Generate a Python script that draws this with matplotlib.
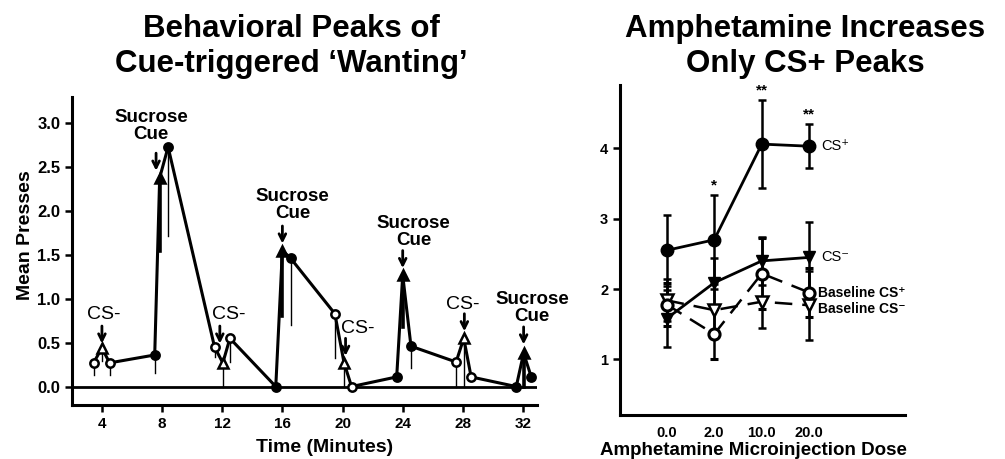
import matplotlib
matplotlib.use("Agg")
import matplotlib.pyplot as plt

# ---- left panel: mean presses over the session ----
cue_types = ["CS-", "Sucrose", "CS-", "Sucrose", "CS-", "Sucrose", "CS-", "Sucrose"]
cue_times = [4, 8, 12, 16, 20, 24, 28, 32]
# three points per cue: before, at the cue, after
times = [3.44, 4.0, 4.51, 7.51, 7.84, 8.4, 11.49, 12.04, 12.51,
         15.56, 16.0, 16.56, 19.49, 20.1, 20.6, 23.6, 24.0, 24.55,
         27.55, 28.06, 28.55, 31.55, 32.04, 32.55]
presses = [0.27, 0.44, 0.27, 0.36, 2.38, 2.73, 0.45, 0.27, 0.55,
           0.0, 1.55, 1.46, 0.83, 0.27, 0.0, 0.11, 1.27, 0.46,
           0.28, 0.55, 0.11, 0.0, 0.38, 0.11]
press_err = [0.14, 0.15, 0.14, 0.21, 0.83, 1.01, 0.11, 0.27, 0.27,
             0.0, 0.75, 0.76, 0.51, 0.27, 0.0, 0.0, 0.59, 0.25,
             0.28, 0.55, 0.0, 0.0, 0.38, 0.0]
left_xticks = [4, 8, 12, 16, 20, 24, 28, 32]
left_yticks = [0.0, 0.5, 1.0, 1.5, 2.0, 2.5, 3.0]

# ---- right panel: amphetamine dose ----
doses = ["0.0", "2.0", "10.0", "20.0"]
cs_plus = [2.55, 2.70, 4.06, 4.03]
cs_plus_err = [0.50, 0.63, 0.62, 0.31]
cs_minus = [1.58, 2.09, 2.40, 2.45]
cs_minus_err = [0.40, 0.35, 0.34, 0.51]
base_plus = [1.78, 1.36, 2.22, 1.95]
base_plus_err = [0.30, 0.36, 0.50, 0.35]
base_minus = [1.84, 1.70, 1.82, 1.77]
base_minus_err = [0.30, 0.30, 0.38, 0.49]
stars = ["", "*", "**", "**"]
right_yticks = [1, 2, 3, 4]

plt.rcParams["font.family"] = ["Liberation Sans", "DejaVu Sans"]

W, H = 1005, 459
fig = plt.figure(figsize=(W / 100, H / 100), dpi=100)
ax1 = fig.add_axes([72 / W, 1 - 405 / H, 465 / W, 308 / H])
ax2 = fig.add_axes([620 / W, 1 - 415 / H, 285 / W, 330 / H])

for ax in (ax1, ax2):
    for s in ("top", "right"):
        ax.spines[s].set_visible(False)
    for s in ("left", "bottom"):
        ax.spines[s].set_linewidth(2.2)
    ax.tick_params(direction="out", width=1.8, length=5)

# left panel
ax1.axhline(0, color="black", lw=2, zorder=1)
ax1.plot(times, presses, color="black", lw=2.2, zorder=3)
for i, (t, p, e) in enumerate(zip(times, presses, press_err)):
    kind = cue_types[i // 3]
    at_cue = i % 3 == 1
    if e > 0:
        lw = 2.6 if (at_cue and kind == "Sucrose") else 1.0
        ax1.plot([t, t], [p - e, p], color="black", lw=lw, zorder=2)
    marker = "^" if at_cue else "o"
    face = "black" if kind == "Sucrose" else "white"
    ax1.plot(t, p, marker=marker, ms=7 if at_cue else 6, mfc=face,
             mec="black", mew=1.8, zorder=4)

# cue labels with arrows (label x, label y, arrow x, arrow tip)
label_layout = [(4.1, 0.82, 4.0, 0.49), (7.27, 2.975, 7.6, 2.46),
                (12.44, 0.82, 11.84, 0.49), (16.69, 2.065, 16.0, 1.63),
                (21.04, 0.66, 20.2, 0.35), (24.73, 1.765, 24.0, 1.35),
                (28.0, 0.93, 28.1, 0.63), (32.6, 0.89, 32.04, 0.48)]
for kind, (tx, ty, ax_, tip) in zip(cue_types, label_layout):
    if kind == "Sucrose":
        ax1.text(tx, ty, "Sucrose\nCue", ha="center", va="center",
                 fontsize=13.5, fontweight="bold", linespacing=1.0)
    else:
        ax1.text(tx, ty, "CS-", ha="center", va="center", fontsize=14)
    ax1.annotate("", xy=(ax_, tip), xytext=(ax_, tip + 0.2),
                 arrowprops=dict(arrowstyle="->", lw=2, color="black",
                                 mutation_scale=12, shrinkA=0, shrinkB=0))

ax1.set_xlim(2.01, 32.93)
ax1.set_ylim(-0.21, 3.3)
ax1.set_xticks(left_xticks)
ax1.set_yticks(left_yticks)
ax1.set_xticklabels([str(v) for v in left_xticks], fontsize=11, fontweight="bold")
ax1.set_yticklabels([f"{v:.1f}" for v in left_yticks], fontsize=12, fontweight="bold")
ax1.set_xlabel("Time (Minutes)", fontsize=14, fontweight="bold")
ax1.set_ylabel("Mean Presses", fontsize=14, fontweight="bold")
ax1.xaxis.set_label_coords(0.544, -0.11)
ax1.yaxis.set_label_coords(-0.082, 0.55)

# right panel
x = list(range(len(doses)))
eb = dict(color="black", capsize=3, elinewidth=1.8, capthick=1.8)
ax2.errorbar(x, base_minus, yerr=base_minus_err, marker="v", ms=8, mfc="white",
             mec="black", mew=1.8, lw=1.8, ls=(0, (7, 4)), **eb)
ax2.errorbar(x, base_plus, yerr=base_plus_err, marker="o", ms=8, mfc="white",
             mec="black", mew=2.2, lw=1.8, ls=(0, (7, 4)), **eb)
ax2.errorbar(x, cs_minus, yerr=cs_minus_err, marker="v", ms=9, mfc="black",
             mec="black", lw=2, **eb)
ax2.errorbar(x, cs_plus, yerr=cs_plus_err, marker="o", ms=9, mfc="black",
             mec="black", lw=2, **eb)

for xi, y, e, s in zip(x, cs_plus, cs_plus_err, stars):
    if s:
        ax2.text(xi, y + e + 0.04, s, ha="center", va="bottom",
                 fontsize=11, fontweight="bold")

ax2.text(3.26, cs_plus[-1], "CS\u207a", fontsize=10.5, va="center")
ax2.text(3.26, cs_minus[-1], "CS\u207b", fontsize=10.5, va="center")
ax2.text(3.18, base_plus[-1], "Baseline CS\u207a", fontsize=10,
         fontweight="bold", va="center")
ax2.text(3.18, base_minus[-1] - 0.06, "Baseline CS\u207b", fontsize=10,
         fontweight="bold", va="center")

ax2.set_xlim(-0.98, 5.01)
ax2.set_ylim(0.21, 4.9)
ax2.set_xticks(x)
ax2.set_xticklabels(doses, fontsize=10.5, fontweight="bold")
ax2.tick_params(axis="x", length=0, pad=8)
ax2.set_yticks(right_yticks)
ax2.set_yticklabels([str(v) for v in right_yticks], fontsize=10.5, fontweight="bold")
fig.text(753 / W, 1 - 455 / H, "Amphetamine Microinjection Dose", ha="center",
         va="baseline", fontsize=13.5, fontweight="bold")

# titles, one line at a time
title_kw = dict(ha="center", va="baseline", fontsize=22.5, fontweight="bold")
fig.text(291 / W, 1 - 37 / H, "Behavioral Peaks of", **title_kw)
fig.text(291 / W, 1 - 72 / H, "Cue-triggered \u2018Wanting\u2019", **title_kw)
fig.text(805 / W, 1 - 37 / H, "Amphetamine Increases", **title_kw)
fig.text(805 / W, 1 - 72 / H, "Only CS+ Peaks", **title_kw)

fig.savefig("out.png", dpi=100)
